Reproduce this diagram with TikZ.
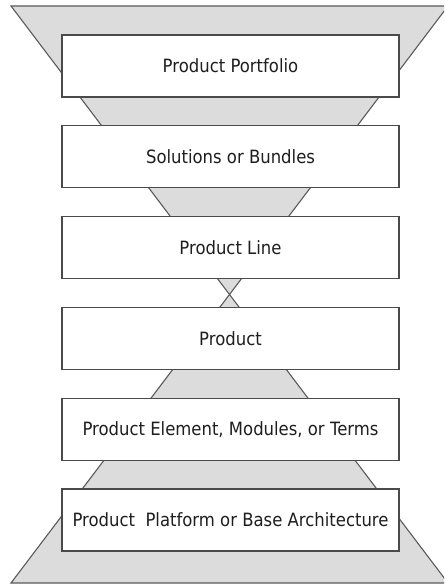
\documentclass[tikz,border=0pt]{standalone}
\usepackage{fontspec}
\setmainfont{DejaVu Sans}[FakeStretch=0.9]
\definecolor{funnelfill}{HTML}{DCDCDC}
\definecolor{funneledge}{HTML}{5A5A5A}
\definecolor{boxedge}{HTML}{4A4A4A}
\definecolor{labeltext}{HTML}{1E1E1E}
\begin{document}
\begin{tikzpicture}[x=1pt,y=-1pt,
  funnel/.style={fill=funnelfill,draw=funneledge,line width=1.1pt,line join=miter},
  level/.style={draw=boxedge,fill=white,line width=1.4pt,minimum width=337pt,
    minimum height=62pt,inner sep=0pt,text=labeltext,
    font=\fontsize{18.3}{21}\selectfont}]
  \useasboundingbox (0,0) rectangle (444,585);
  \begin{scope}
    \clip (0,0) rectangle (444,585);
    % hourglass behind the stack
    \coordinate (waist) at (229.5,294.5);
    \draw[funnel] (11,6) -- (448,6) -- (waist) -- cycle;
    \draw[funnel] (11,583) -- (448,583) -- (waist) -- cycle;
  \end{scope}
  % stack of levels
  \node[level] (portfolio) at (230.5,66)    {Product Portfolio};
  \node[level] (bundles)   at (230.5,156.8) {Solutions or Bundles};
  \node[level] (line)      at (230.5,247.6) {Product Line};
  \node[level] (product)   at (230.5,338.4) {Product};
  \node[level] (element)   at (230.5,429.2) {Product Element, Modules, or Terms};
  \node[level] (platform)  at (230.5,520)   {Product\ \ Platform or Base Architecture};
\end{tikzpicture}
\end{document}
